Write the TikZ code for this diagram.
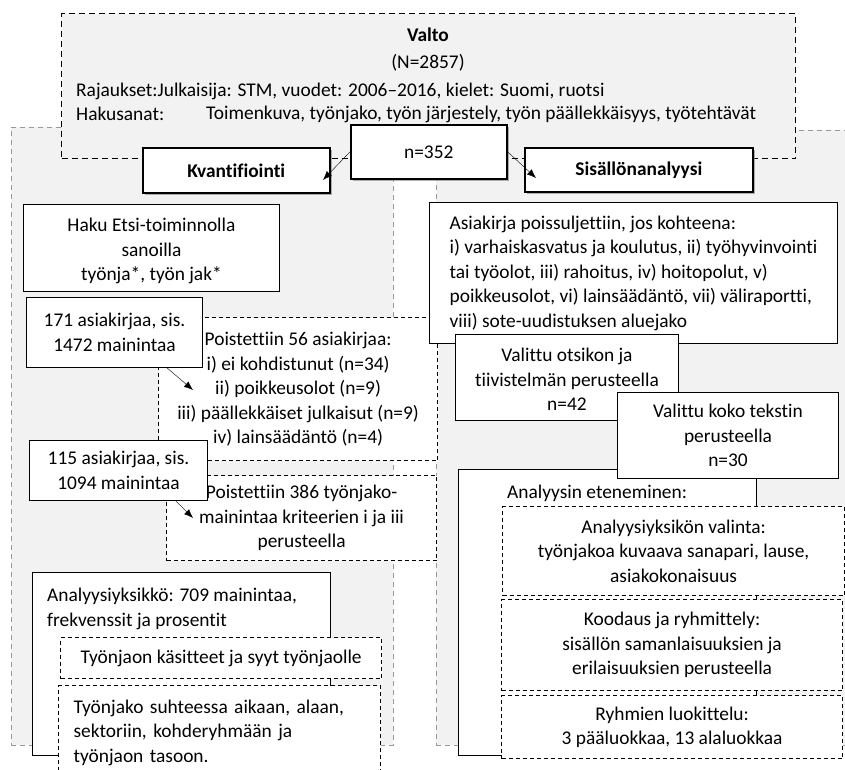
\documentclass[tikz,border=0pt]{standalone}
\usepackage{fontspec}
\setmainfont{Carlito}[Ligatures=NoCommon]
\usetikzlibrary{positioning, shadows, arrows.meta}
\tikzset{
	region/.style={draw=black!40, dash pattern=on 5pt off 4pt, line width=0.8pt, fill=black!5, anchor=north west, inner sep=0pt},
	topbox/.style={draw, dash pattern=on 6pt off 4pt, line width=1.3pt, fill=black!5, anchor=north west, inner sep=0pt},
	box/.style={draw, line width=1pt, fill=white, anchor=north west, inner sep=0pt, align=center},
	dbox/.style={box, dash pattern=on 4pt off 3pt, line width=1.2pt},
	% boxes with a shadow under the top box
	shadowbox/.style={box, line width=1.6pt, drop shadow={shadow xshift=2.5pt, shadow yshift=-2.5pt, fill=black!50, opacity=0.6}},
	txt/.style={inner sep=0pt, anchor=west},
}

\begin{document}
\fontsize{19.4}{24.5}\selectfont
\begin{tikzpicture}[x=1pt, y=-1pt]
	\clip (0,0) rectangle (845,769);
	
	% grey areas
	\node (kvreg) [region, minimum width=382pt, minimum height=618pt] at (11,127) {};
	\node (sisreg) [region, minimum width=430pt, minimum height=615pt] at (436,130) {};
	
	% search
	\node (valto) [topbox, minimum width=734pt, minimum height=145pt] at (61,13) {};
	\node (valtot) [font=\bfseries] at (428,35) {Valto};
	\node (nall) at (428,63) {(N=2857)};
	\node (rajaus) [txt] at (76,91) {Rajaukset:Julkaisija: STM, vuodet: 2006--2016, kielet: Suomi, ruotsi};
	\node (hakul) [txt] at (76,114) {Hakusanat:};
	\node (hakusanat) [txt] at (206,114) {Toimenkuva, työnjako, työn järjestely, työn päällekkäisyys, työtehtävät};
	
	\node (kvant) [shadowbox, font=\bfseries, minimum width=187pt, minimum height=45pt] at (142,147) {Kvantifiointi};
	\node (n352) [shadowbox, minimum width=156pt, minimum height=54pt] at (350,124) {n=352};
	\node (sis) [shadowbox, font=\bfseries, minimum width=228pt, minimum height=44pt] at (524,147) {Sisällönanalyysi};
	
	% left branch
	\node (haku) [box, minimum width=256pt, minimum height=87pt] at (23,204) {\rule{0pt}{20pt}Haku Etsi-toiminnolla\\sanoilla\\työnja*, työn jak*};
	\node (pois56) [dbox, minimum width=279pt, minimum height=143pt] at (158,317) {Poistettiin 56 asiakirjaa:\\i) ei kohdistunut (n=34)\\ii) poikkeusolot (n=9)\\iii) päällekkäiset julkaisut (n=9)\\iv) lainsäädäntö (n=4)};
	\node (k171) [box, minimum width=176pt, minimum height=70pt] at (26,297) {171 asiakirjaa, sis.\\1472 mainintaa};
	\node (pois386) [dbox, minimum width=270pt, minimum height=85pt] at (166,475) {Poistettiin 386 työnjako-\\mainintaa kriteerien i ja iii\\perusteella};
	\node (k115) [box, minimum width=178pt, minimum height=60pt] at (29,440) {115 asiakirjaa, sis.\\1094 mainintaa};
	
	\node (ayk) [box, minimum width=298pt, minimum height=183pt] at (32,572) {};
	\node (aykt) [txt, align=left] at (47,609) {Analyysiyksikkö: 709 mainintaa,\\frekvenssit ja prosentit};
	\node (kasit) [dbox, minimum width=321pt, minimum height=41pt] at (60,637) {Työnjaon käsitteet ja syyt työnjaolle};
	\node (suht) [dbox, minimum width=322pt, minimum height=94pt, align=left, text width=292pt] at (58,685) {Työnjako suhteessa aikaan, alaan,\\sektoriin, kohderyhmään ja\\työnjaon tasoon.};
	
	% right branch
	\node (asia) [box, minimum width=408pt, minimum height=141pt, align=left] at (429,202) {Asiakirja poissuljettiin, jos kohteena:\\i) varhaiskasvatus ja koulutus, ii) työhyvinvointi\\tai työolot, iii) rahoitus, iv) hoitopolut, v)\\poikkeusolot, vi) lainsäädäntö, vii) väliraportti,\\viii) sote-uudistuksen aluejako};
	\node (otsikko) [box, minimum width=223pt, minimum height=86pt] at (455,334) {\rule{0pt}{17pt}Valittu otsikon ja\\tiivistelmän perusteella\\n=42};
	\node (ana) [box, minimum width=298pt, minimum height=286pt] at (458,469) {};
	\node (koko) [box, minimum width=221pt, minimum height=86pt] at (617,392) {Valittu koko tekstin\\perusteella\\n=30};
	\node (anat) [txt] at (507,493) {Analyysin eteneminen:};
	\node (valinta) [dbox, minimum width=342pt, minimum height=89pt] at (502,506) {Analyysiyksikön valinta:\\työnjakoa kuvaava sanapari, lause,\\asiakokonaisuus};
	\node (koodaus) [dbox, minimum width=341pt, minimum height=91pt] at (501,599) {Koodaus ja ryhmittely:\\sisällön samanlaisuuksien ja\\erilaisuuksien perusteella};
	\node (ryhmat) [dbox, minimum width=341pt, minimum height=63pt] at (501,695) {Ryhmien luokittelu:\\3 pääluokkaa, 13 alaluokkaa};
	
	\coordinate (kvtip) at (323,180);
	\coordinate (sistip) at (536,178);
	\coordinate (tip171) at (193,390);
	\coordinate (tip115) at (193,518);
	
	\begin{scope}[black, ->, >={Latex[length=9pt,width=7pt]}]
		\draw (n352.west) -- (kvtip);
		\draw (n352.east) -- (sistip);
		\draw (k171.-34) -- (tip171);
		\draw (k115.-28) -- (tip115);
	\end{scope}
\end{tikzpicture}
\end{document}
